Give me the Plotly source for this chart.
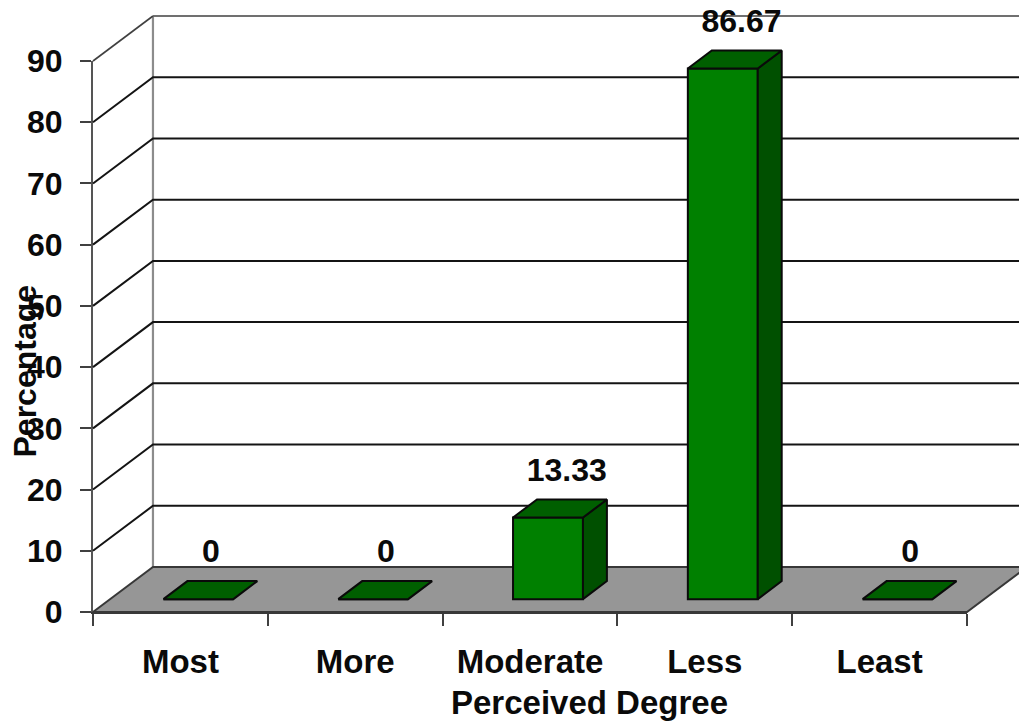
import plotly.graph_objects as go

# Survey result: share of respondents per perceived degree
categories = ["Most", "More", "Moderate", "Less", "Least"]
percentages = [0, 0, 13.33, 86.67, 0]
value_ticks = [0, 10, 20, 30, 40, 50, 60, 70, 80, 90]

FONT = dict(family="Liberation Sans, Arial, sans-serif", size=32, color="#0a0a0a", weight=700)
FONT_WIDE = {**FONT, "size": 33}
WIDTH, HEIGHT = 1019, 722

# Pixel box of the front plane of the chart
LEFT, RIGHT, BOTTOM, TOP = 93, 967, 612, 61

# Oblique projection used to fake the depth of the chart box
WALL_DX, WALL_DY = 0.343, 7.35
BAR_DX, BAR_DY = 0.137, 2.95
BAR_SHIFT, BAR_WIDTH, BAR_BASE = 0.103, 0.40, 2.1

GREEN, GREEN_SIDE, GREEN_TOP = "#008000", "#005000", "#005f00"
EDGE = "#0a0a0a"
X_MAX, Y_MAX = len(categories), value_ticks[-1]

# The scene axes span the whole canvas with the same scale as the visible axes,
# so the depth of the box is not clipped by the front plane.
x_scale = (RIGHT - LEFT) / X_MAX
y_scale = (BOTTOM - TOP) / Y_MAX
scene_x_range = [-LEFT / x_scale, (WIDTH - LEFT) / x_scale]
scene_y_range = [-(HEIGHT - BOTTOM) / y_scale, BOTTOM / y_scale]

fig = go.Figure()


def polygons(rings):
    xs, ys = [], []
    for ring in rings:
        xs += [p[0] for p in ring] + [ring[0][0], None]
        ys += [p[1] for p in ring] + [ring[0][1], None]
    return xs, ys


def add_scene_line(xs, ys, colour, width):
    fig.add_trace(go.Scatter(x=xs, y=ys, xaxis="x2", yaxis="y2", mode="lines", hoverinfo="skip",
                             line=dict(color=colour, width=width)))


# The visible axes carry only ticks and labels
fig.add_trace(go.Scatter(x=[], y=[], hoverinfo="skip"))

# Back wall edge and horizontal grid lines
add_scene_line([WALL_DX, WALL_DX], [WALL_DY, Y_MAX + WALL_DY], "#8c8c8c", 2.2)
grid_x, grid_y = [], []
for v in value_ticks[1:-1]:
    grid_x += [0, WALL_DX, X_MAX + WALL_DX, None]
    grid_y += [v, v + WALL_DY, v + WALL_DY, None]
add_scene_line(grid_x, grid_y, "#141414", 2)
add_scene_line([WALL_DX, X_MAX + WALL_DX], [Y_MAX + WALL_DY] * 2, "#707070", 2.2)
add_scene_line([0, WALL_DX], [Y_MAX, Y_MAX + WALL_DY], "#404040", 1.6)

# Floor of the box
floor_x, floor_y = polygons([[(0, 0), (X_MAX, 0), (X_MAX + WALL_DX, WALL_DY), (WALL_DX, WALL_DY)]])
fig.add_trace(go.Scatter(x=floor_x, y=floor_y, xaxis="x2", yaxis="y2", mode="lines", fill="toself",
                         fillcolor="#969696", hoverinfo="skip", line=dict(color="#383838", width=2)))

# Bars live on an overlaying pair of axes so they sit above the floor and grid
centres = [i + 0.5 + BAR_SHIFT for i in range(len(categories))]
fig.add_trace(go.Bar(x=centres, y=percentages, base=BAR_BASE, width=BAR_WIDTH, xaxis="x3", yaxis="y3",
                     marker=dict(color=GREEN, line=dict(color=EDGE, width=2)), hoverinfo="skip"))

sides, tops = [], []
for c, v in zip(centres, percentages):
    right, left = c + BAR_WIDTH / 2, c - BAR_WIDTH / 2
    low, high = BAR_BASE, BAR_BASE + v
    if v > 0:
        sides.append([(right, low), (right + BAR_DX, low + BAR_DY),
                      (right + BAR_DX, high + BAR_DY), (right, high)])
    tops.append([(left, high), (right, high), (right + BAR_DX, high + BAR_DY), (left + BAR_DX, high + BAR_DY)])

for rings, colour in ((sides, GREEN_SIDE), (tops, GREEN_TOP)):
    xs, ys = polygons(rings)
    fig.add_trace(go.Scatter(x=xs, y=ys, xaxis="x3", yaxis="y3", mode="lines", fill="toself",
                             fillcolor=colour, hoverinfo="skip", line=dict(color=EDGE, width=2)))

# Value labels above each bar; empty bars keep theirs closer to the bar centre
fig.add_trace(go.Scatter(x=[c + (0.107 if v else 0.072) for c, v in zip(centres, percentages)],
                         y=[v + BAR_BASE + BAR_DY + 4.4 for v in percentages],
                         xaxis="x3", yaxis="y3", mode="text", hoverinfo="skip",
                         text=[f"{v:g}" for v in percentages], textposition="middle center",
                         textfont=FONT))

axis_common = dict(showgrid=False, zeroline=False)
hidden = dict(visible=False, fixedrange=True)
fig.update_layout(
    width=WIDTH, height=HEIGHT, autosize=False, showlegend=False, barmode="overlay",
    paper_bgcolor="white", plot_bgcolor="rgba(0,0,0,0)",
    margin=dict(l=0, r=0, t=0, b=0, autoexpand=False),
    xaxis=dict(range=[0, X_MAX], domain=[LEFT / WIDTH, RIGHT / WIDTH], anchor="y",
               tickvals=[i + 0.5 for i in range(X_MAX)], ticktext=categories, tickfont=FONT_WIDE,
               ticks="", showline=True, linecolor="#383838", linewidth=2, ticklabelstandoff=19,
               minor=dict(tickvals=list(range(X_MAX + 1)), ticks="outside", ticklen=12,
                          tickcolor="#404040", tickwidth=1.6),
               **axis_common),
    yaxis=dict(range=[0, Y_MAX], domain=[1 - BOTTOM / HEIGHT, 1 - TOP / HEIGHT], anchor="x",
               tickvals=value_ticks, tickfont=FONT, ticks="outside", ticklen=11, tickcolor="#404040",
               tickwidth=1.6, showline=True, linecolor="#555555", linewidth=2, ticklabelstandoff=11,
               **axis_common),
    xaxis2=dict(range=scene_x_range, domain=[0, 1], anchor="y2", **hidden),
    yaxis2=dict(range=scene_y_range, domain=[0, 1], anchor="x2", **hidden),
    xaxis3=dict(range=scene_x_range, domain=[0, 1], anchor="y3", overlaying="x2", **hidden),
    yaxis3=dict(range=scene_y_range, domain=[0, 1], anchor="x3", overlaying="y2", **hidden),
    annotations=[
        dict(text="Percentage", textangle=-90, xref="paper", yref="paper", x=24.5 / WIDTH,
             y=1 - 371 / HEIGHT, showarrow=False, font=FONT, xanchor="center", yanchor="middle"),
        dict(text="Perceived Degree", xref="paper", yref="paper", x=589 / WIDTH,
             y=1 - 702 / HEIGHT, showarrow=False, font=FONT_WIDE,
             xanchor="center", yanchor="middle"),
    ],
)

fig.write_html("out.html")
